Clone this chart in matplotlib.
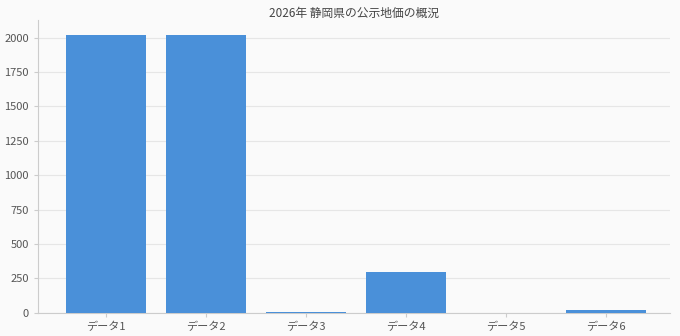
import matplotlib
matplotlib.use('Agg')
import matplotlib.pyplot as plt

plt.rcParams['font.family'] = ['Noto Sans CJK JP', 'DejaVu Sans']

# Data
categories = ['データ1', 'データ2', 'データ3', 'データ4', 'データ5', 'データ6']
values = [2022, 2022, 5, 298, 0, 22]
title = '2026年 静岡県の公示地価の概況'

fig = plt.figure(figsize=(6.8, 3.36), dpi=100, facecolor='#fafafa')
ax = fig.add_axes([0.056, 0.069, 0.929, 0.872])
ax.set_facecolor('#fafafa')

x = range(len(categories))
ax.bar(x, values, width=0.8, color='#4a90d9', zorder=3)

ax.set_xticks(list(x))
ax.set_xticklabels(categories)
ax.set_xlim(-0.68, 5.64)
ax.set_ylim(0, 2130)
ax.set_yticks([0, 250, 500, 750, 1000, 1250, 1500, 1750, 2000])

ax.grid(axis='y', color='#e6e6e6', linewidth=0.8, zorder=0)
for s in ['top', 'right']:
    ax.spines[s].set_visible(False)
for s in ['left', 'bottom']:
    ax.spines[s].set_color('#cccccc')
ax.tick_params(colors='#cccccc', labelcolor='#555555', labelsize=8, length=3)

ax.set_title(title, fontsize=8.5, color='#444444', pad=2)

fig.savefig('out.png', dpi=100, facecolor=fig.get_facecolor())
